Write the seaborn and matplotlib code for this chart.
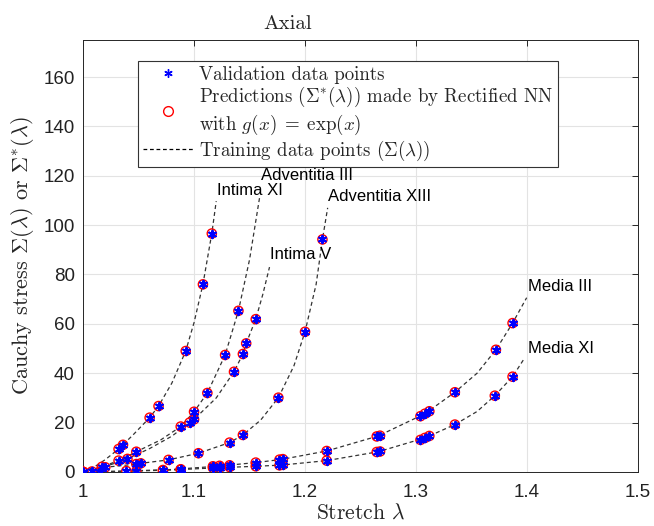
import numpy as np
import pandas as pd
import matplotlib
matplotlib.use("Agg")
import matplotlib.pyplot as plt
from matplotlib.lines import Line2D
import seaborn as sns

# ---------------- training curves Sigma(lambda) ----------------
layers = ["Intima XI", "Adventitia III", "Intima V", "Adventitia XIII", "Media III", "Media XI"]

train_stretch_intima_xi = [1.0, 1.010, 1.020, 1.032, 1.045, 1.060, 1.068, 1.080, 1.0925, 1.100, 1.108, 1.116, 1.120]
train_stress_intima_xi = [0.0, 2.0, 5.0, 9.3, 15.0, 22.0, 26.7, 36.0, 49.0, 60.5, 76.0, 96.6, 109.7]

train_stretch_adv_iii = [1.0, 1.017, 1.032, 1.048, 1.070, 1.088, 1.100, 1.112, 1.128, 1.140, 1.150, 1.159]
train_stress_adv_iii = [0.0, 2.1, 4.6, 8.2, 13.0, 18.4, 24.4, 32.0, 47.4, 65.3, 86.0, 111.0]

train_stretch_intima_v = [1.0, 1.020, 1.040, 1.060, 1.080, 1.096, 1.100, 1.120, 1.136, 1.144, 1.147, 1.1556, 1.162, 1.168]
train_stress_intima_v = [0.0, 2.2, 5.3, 9.5, 14.5, 20.0, 21.3, 30.0, 40.6, 47.8, 52.1, 61.9, 72.0, 83.0]

train_stretch_adv_xiii = [1.0, 1.020, 1.048, 1.052, 1.077, 1.104, 1.132, 1.144, 1.160, 1.176, 1.190, 1.200, 1.210, 1.2157, 1.2204]
train_stress_adv_xiii = [0.0, 1.9, 3.2, 3.5, 4.9, 7.6, 11.9, 15.0, 21.0, 30.1, 43.0, 56.8, 76.0, 94.2, 107.0]

train_stretch_media_iii = [1.0, 1.040, 1.080, 1.120, 1.1556, 1.179, 1.2195, 1.266, 1.308, 1.335, 1.355, 1.372, 1.387, 1.3997]
train_stress_media_iii = [0.0, 0.4, 1.0, 2.3, 3.8, 5.1, 8.5, 14.6, 23.6, 32.3, 40.0, 49.5, 60.3, 70.6]

train_stretch_media_xi = [1.0, 1.040, 1.080, 1.120, 1.1556, 1.179, 1.2195, 1.266, 1.308, 1.335, 1.355, 1.371, 1.387, 1.3976]
train_stress_media_xi = [0.0, 0.3, 0.8, 1.7, 2.3, 2.8, 4.6, 8.2, 13.8, 19.2, 24.5, 30.9, 38.6, 46.0]

# ---------------- validation samples ----------------
val_stretch_intima_xi = [1.0, 1.032, 1.036, 1.060, 1.068, 1.0925, 1.108, 1.116]
val_stress_intima_xi = [0.0, 9.3, 11.0, 22.0, 26.7, 49.0, 76.0, 96.6]

val_stretch_adv_iii = [1.0, 1.017, 1.032, 1.048, 1.088, 1.100, 1.112, 1.128, 1.140]
val_stress_adv_iii = [0.0, 2.1, 4.6, 8.2, 18.4, 24.4, 32.0, 47.4, 65.3]

val_stretch_intima_v = [1.0, 1.040, 1.096, 1.100, 1.136, 1.144, 1.147, 1.1556]
val_stress_intima_v = [0.0, 5.3, 20.0, 21.3, 40.6, 47.8, 52.1, 61.9]

val_stretch_adv_xiii = [1.0, 1.020, 1.048, 1.052, 1.077, 1.104, 1.132, 1.144, 1.176, 1.200, 1.2157]
val_stress_adv_xiii = [0.0, 1.9, 3.2, 3.5, 4.9, 7.6, 11.9, 15.0, 30.1, 56.8, 94.2]

val_stretch_media_iii = [1.0, 1.008, 1.039, 1.072, 1.088, 1.117, 1.123, 1.132, 1.1556, 1.177, 1.180,
                         1.2195, 1.2646, 1.2676, 1.304, 1.308, 1.312, 1.335, 1.372, 1.387]
val_stress_media_iii = [0.0, 0.2, 0.4, 0.8, 1.1, 2.3, 2.5, 2.7, 3.8, 5.0, 5.2,
                        8.5, 14.4, 14.7, 22.6, 23.6, 24.6, 32.3, 49.5, 60.3]

val_stretch_media_xi = [1.0, 1.015, 1.048, 1.072, 1.088, 1.117, 1.123, 1.132, 1.1556, 1.177, 1.180,
                        1.2195, 1.2646, 1.2676, 1.304, 1.308, 1.312, 1.335, 1.371, 1.387]
val_stress_media_xi = [0.0, 0.1, 0.3, 0.6, 0.9, 1.7, 1.8, 2.0, 2.3, 2.7, 2.9,
                       4.6, 8.1, 8.3, 13.0, 13.8, 14.6, 19.2, 30.9, 38.6]

# ---------------- curve label anchors ----------------
label_x = [1.1205, 1.1604, 1.1685, 1.2207, 1.4005, 1.4005]
label_y = [114.2, 120.0, 88.3, 111.7, 75.0, 50.0]

x_ticks = [1.0, 1.1, 1.2, 1.3, 1.4, 1.5]
y_ticks = [0, 20, 40, 60, 80, 100, 120, 140, 160]

train_sets = [
    (train_stretch_intima_xi, train_stress_intima_xi),
    (train_stretch_adv_iii, train_stress_adv_iii),
    (train_stretch_intima_v, train_stress_intima_v),
    (train_stretch_adv_xiii, train_stress_adv_xiii),
    (train_stretch_media_iii, train_stress_media_iii),
    (train_stretch_media_xi, train_stress_media_xi),
]
val_sets = [
    (val_stretch_intima_xi, val_stress_intima_xi),
    (val_stretch_adv_iii, val_stress_adv_iii),
    (val_stretch_intima_v, val_stress_intima_v),
    (val_stretch_adv_xiii, val_stress_adv_xiii),
    (val_stretch_media_iii, val_stress_media_iii),
    (val_stretch_media_xi, val_stress_media_xi),
]

train_df = pd.concat(
    [pd.DataFrame({"stretch": s, "stress": t, "layer": name})
     for name, (s, t) in zip(layers, train_sets)], ignore_index=True)
val_df = pd.concat(
    [pd.DataFrame({"stretch": s, "stress": t, "layer": name})
     for name, (s, t) in zip(layers, val_sets)], ignore_index=True)

sns.set_style("white")
plt.rcParams["mathtext.fontset"] = "cm"
plt.rcParams["axes.formatter.use_mathtext"] = True

serif = ["cmr10", "DejaVu Serif"]
sans = ["Liberation Sans", "DejaVu Sans"]
axis_grey = "#262626"

fig = plt.figure(figsize=(6.54, 5.26), dpi=100)
ax = fig.add_axes([0.127, 0.1027, 0.8485, 0.8213])

ax.grid(True, color="#e3e3e3", linewidth=0.8, zorder=0)
ax.set_axisbelow(True)

sns.lineplot(data=train_df, x="stretch", y="stress", units="layer", estimator=None,
             sort=False, color="#333333", linestyle=(0, (3.2, 2.4)), linewidth=0.9,
             legend=False, ax=ax, zorder=2)

sns.scatterplot(data=val_df, x="stretch", y="stress", marker="o", s=44,
                facecolors="none", edgecolors="red", linewidth=1.0,
                legend=False, ax=ax, zorder=3)
sns.scatterplot(data=val_df, x="stretch", y="stress", marker=(6, 2, 0), s=28,
                color="blue", edgecolors="blue", linewidth=1.5,
                legend=False, ax=ax, zorder=4)

for name, lx, ly in zip(layers, label_x, label_y):
    ax.text(lx, ly, name, family=sans, fontsize=12, color="black",
            ha="left", va="center", zorder=5)

ax.set_xlim(1.0, 1.5)
ax.set_ylim(0, 175)
ax.set_xticks(x_ticks)
ax.set_xticklabels([f"{v:g}" for v in x_ticks], family=sans, fontsize=13.5)
ax.set_yticks(y_ticks)
ax.set_yticklabels([str(v) for v in y_ticks], family=sans, fontsize=13.5)
ax.tick_params(direction="in", length=4.5, width=0.7, color=axis_grey,
               top=True, right=True, labelcolor="#222222")
ax.tick_params(axis="x", pad=9)
ax.tick_params(axis="y", pad=6)
for sp in ax.spines.values():
    sp.set_color(axis_grey)
    sp.set_linewidth(0.7)

ax.set_title("Axial", family=serif, fontsize=15, x=0.369, pad=8)
ax.set_xlabel(r"Stretch $\lambda$", family=serif, fontsize=15.5, labelpad=1)
ax.set_ylabel(r"Cauchy stress $\Sigma(\lambda)$ or $\Sigma^{*}(\lambda)$",
              family=serif, fontsize=16, labelpad=5)

handles = [
    Line2D([], [], linestyle="none", marker=(6, 2, 0), markersize=6,
           markeredgecolor="blue", markeredgewidth=1.0, color="blue"),
    Line2D([], [], linestyle="none", marker="o", markersize=7,
           markerfacecolor="none", markeredgecolor="red", markeredgewidth=1.0),
    Line2D([], [], linestyle=(0, (3.0, 2.2)), color="black", linewidth=0.9),
]
labels = [
    "Validation data points",
    "Predictions $(\\Sigma^{*}(\\lambda))$ made by Rectified NN\nwith $g(x)\\;=\\;\\exp(x)$",
    "Training data points $(\\Sigma(\\lambda))$",
]
leg = ax.legend(handles, labels, loc="upper left", bbox_to_anchor=(0.099, 0.951),
                prop={"family": serif, "size": 13.6}, frameon=True, fancybox=False,
                framealpha=1.0, edgecolor="#333333", handlelength=2.7,
                handletextpad=0.3, borderpad=0.25, labelspacing=0.07,
                borderaxespad=0)
leg.get_frame().set_linewidth(0.8)
leg.set_zorder(6)

fig.savefig("out.png", dpi=100)
